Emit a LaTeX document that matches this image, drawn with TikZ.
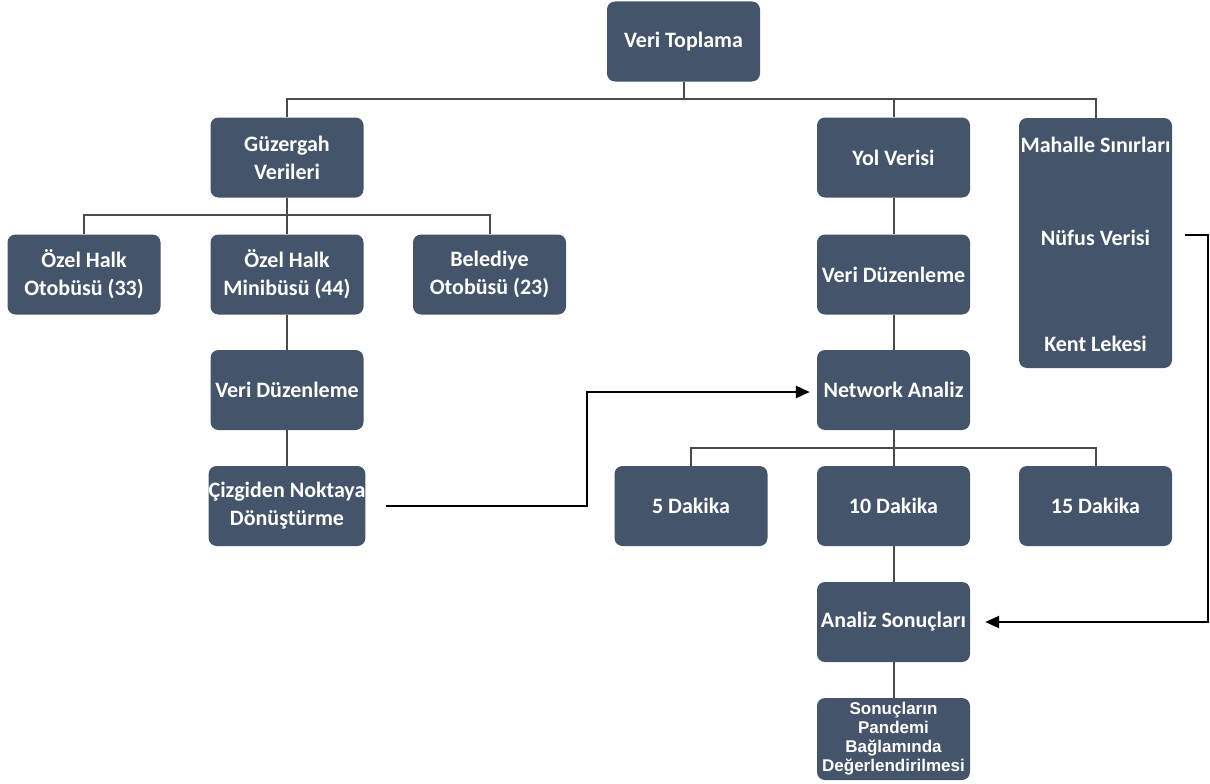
\documentclass[tikz,border=0pt]{standalone}
\usepackage{fontspec}
\setmainfont{Carlito}
\newfontfamily\arialfont{Liberation Sans}
\usetikzlibrary{arrows.meta,positioning}
\begin{document}
\begin{tikzpicture}[x=1pt,y=-1pt,
    box/.style={fill=slateblue, rounded corners=8pt, minimum width=153pt,
        minimum height=80pt, inner sep=0pt, text=white, align=center,
        font=\fontsize{22}{28}\selectfont\bfseries},
    boxtext/.style={text=white, font=\fontsize{22}{28}\selectfont\bfseries},
    link/.style={draw=linkgray, line width=2pt},
    flow/.style={draw=black, line width=2.4pt, -{Triangle[length=14pt,width=12pt]}}]
    % Define colors
    \definecolor{slateblue}{RGB}{68,84,106}
    \definecolor{linkgray}{RGB}{75,75,75}

    % Page frame
    \useasboundingbox (0,0) rectangle (1210,784);

    % Top level
    \node[box] (top) at (683.5,41.5) {Veri Toplama};

    % Second level
    \node[box] (guz) at (287,157.5) {Güzergah\\Verileri};
    \node[box] (yol) at (893.5,157.5) {Yol Verisi};
    \node[box, minimum height=250pt] (mah) at (1095.5,243) {};
    \node[boxtext] (mahs) at (1095.5,145) {Mahalle Sınırları};
    \node[boxtext] (nuf) at (1095.5,238) {Nüfus Verisi};
    \node[boxtext] (kent) at (1095.5,344) {Kent Lekesi};

    % Route data branch
    \node[box] (ozo) at (84,274.5) {Özel Halk\\Otobüsü (33)};
    \node[box] (ozm) at (287,274.5) {Özel Halk\\Minibüsü (44)};
    \node[box] (bel) at (489.5,274.5) {Belediye\\Otobüsü (23)};
    \node[box] (vdl) at (287,390) {Veri Düzenleme};
    \node[box] (ciz) at (287,506) {Çizgiden Noktaya\\Dönüştürme};

    % Road data branch
    \node[box] (vdr) at (893.5,274.5) {Veri Düzenleme};
    \node[box] (net) at (893.5,390) {Network Analiz};
    \node[box] (d5) at (691,506) {5 Dakika};
    \node[box] (d10) at (893.5,506) {10 Dakika};
    \node[box] (d15) at (1095.5,506) {15 Dakika};
    \node[box] (ana) at (893.5,622) {Analiz Sonuçları};
    \node[box, minimum height=82pt, font=\arialfont\fontsize{17}{19}\selectfont\bfseries]
        (son) at (893.5,739) {Sonuçların\\Pandemi\\Bağlamında\\Değerlendirilmesi};

    % Tree connectors
    \foreach \c in {guz,yol,mah}
        \draw[link] (top.south) -- ++(0,17) -| (\c.north);
    \foreach \c in {ozo,ozm,bel}
        \draw[link] (guz.south) -- ++(0,17.5) -| (\c.north);
    \foreach \c in {d5,d10,d15}
        \draw[link] (net.south) -- ++(0,18) -| (\c.north);
    \draw[link] (ozm) -- (vdl);
    \draw[link] (vdl) -- (ciz);
    \draw[link] (yol) -- (vdr);
    \draw[link] (vdr) -- (net);
    \draw[link] (d10) -- (ana);
    \draw[link] (ana) -- (son);

    % Flow arrows
    \coordinate (bend) at (587,392);
    \draw[flow] ([xshift=20pt]ciz.east) -| (bend) -- ([xshift=-7pt]net.west |- bend);
    \coordinate (rturn) at (1208,235);
    \draw[flow] ([xshift=13pt]mah.east |- rturn) -- (rturn) |- ([xshift=15pt]ana.east);
\end{tikzpicture}
\end{document}
